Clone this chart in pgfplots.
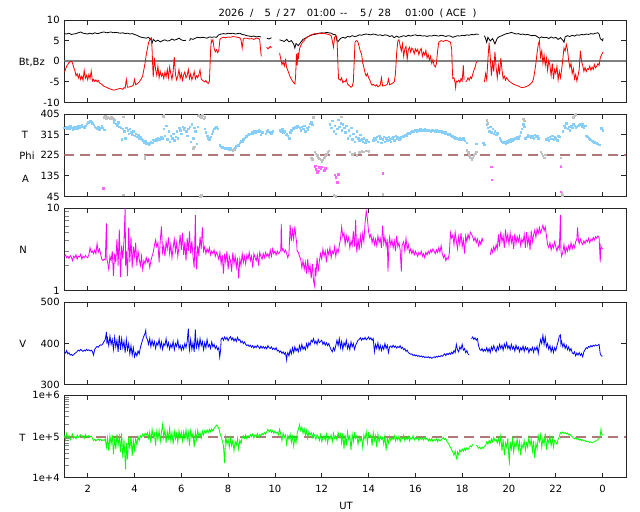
\documentclass[border=0pt]{standalone}
\usepackage{pgfplots}
\pgfplotsset{compat=1.18}
\usepackage{fontspec}
\setmainfont{DejaVu Sans}
\definecolor{bzred}{RGB}{255,0,0}
\definecolor{phiblue}{RGB}{135,206,250}
\definecolor{phigray}{RGB}{192,192,192}
\definecolor{phimag}{RGB}{255,102,255}
\definecolor{nmag}{RGB}{255,0,255}
\definecolor{vblue}{RGB}{0,0,255}
\definecolor{tgreen}{RGB}{0,255,0}
\definecolor{dashc}{RGB}{176,120,120}
\newcommand\tickfont{\fontsize{10}{11}\selectfont}
\begin{document}
\begin{tikzpicture}[font=\tickfont]
\useasboundingbox (0,0) rectangle (640bp,-512bp);
\pgfplotsset{
 panel/.style={
  scale only axis, width=561.7bp, height=82.5bp, anchor=north west,
  xmin=1, xmax=25, xtick={2,4,...,24},
  tick align=inside, major tick length=5bp, minor tick length=5bp,
  axis line style={black!85, line width=0.8bp},
  tick style={black!85, line width=0.8bp},
  minor tick style={gray, line width=0.8bp},
  unbounded coords=jump,
  yticklabel style={inner sep=0pt, xshift=-4.5bp, font=\tickfont},
  xticklabel style={inner sep=0pt, yshift=-7.5bp, font=\tickfont},
 },
 nox/.style={xticklabels={,,,,,,,,,,,,}},
 dline/.style={color=#1, line width=0.8bp, mark=none},
 dashref/.style={color=dashc, line width=2bp, dash pattern=on 10bp off 6bp},
}
% ---------------- Panel 1: Bt, Bz
\begin{axis}[panel, nox, at={(64.3bp,-20bp)}, ymin=-10, ymax=10,
  ytick={-10,-5,0,5,10}, yticklabels={-10,-5,0,5,10}]
\addplot[black!50, line width=1.8bp] coordinates {(1,0) (25,0)};
\addplot[dline=black] coordinates {
(1.0,6.7)(1.1,6.6)(1.2,6.8)(1.3,6.5)(1.4,6.6)(1.5,6.7)(1.6,6.9)(1.7,7.1)(1.8,6.8)(1.9,6.7)(2.0,6.6)(2.1,6.8)(2.2,6.6)(2.3,6.9)(2.4,6.7)(2.5,6.8)(2.6,7.0)(2.7,7.1)(2.8,6.9)(2.9,7.0)(3.0,7.1)(3.1,6.9)(3.2,7.0)(3.3,6.9)(3.4,6.8)(3.5,6.9)(3.6,6.7)(3.7,6.8)(3.8,6.6)(3.9,6.7)(4.0,6.5)(4.1,6.3)(4.2,6.0)(4.3,5.8)(4.4,5.7)(4.5,5.6)(4.6,5.8)(4.7,5.2)(4.75,4.4)(4.8,5.3)(4.9,4.8)(5.0,5.1)(5.1,4.7)(5.2,5.0)(5.3,5.2)(5.4,4.9)(5.5,5.0)(5.6,5.4)(5.7,5.1)(5.8,5.3)(5.9,5.6)(6.0,5.2)(6.1,5.0)(6.2,5.1)(6.3,nan)(6.35,5.0)(6.4,5.5)(6.5,5.3)(6.6,5.6)(6.7,5.8)(6.8,5.7)(6.9,5.8)(7.0,5.7)(7.1,5.6)(7.2,5.9)(7.3,5.8)(7.4,5.9)(7.5,5.8)(7.6,6.4)(7.7,6.6)(7.8,6.7)(7.9,6.6)(8.0,6.8)(8.1,6.7)(8.2,6.8)(8.3,6.6)(8.4,6.7)(8.5,6.8)(8.6,6.5)(8.7,6.4)(8.8,6.2)(8.9,6.1)(9.0,6.0)(9.1,6.1)(9.2,5.9)(9.3,6.0)(9.4,5.9)(9.45,nan)(9.65,5.6)(9.75,5.4)(9.85,5.7)(9.9,nan)(10.2,5.2)(10.3,5.0)(10.4,4.8)(10.5,5.3)(10.6,4.7)(10.7,5.0)(10.8,4.2)(10.85,3.2)(10.9,4.3)(11.0,3.8)(11.1,4.6)(11.2,5.3)(11.3,5.6)(11.4,5.9)(11.5,6.2)(11.6,6.4)(11.7,6.5)(11.8,6.7)(11.9,6.8)(12.0,6.9)(12.1,6.8)(12.2,7.0)(12.3,6.9)(12.4,6.8)(12.5,6.5)(12.6,6.4)(12.65,5.0)(12.7,4.8)(12.8,5.5)(12.9,5.8)(13.0,5.6)(13.1,6.0)(13.2,5.9)(13.3,6.2)(13.4,6.0)(13.5,6.1)(13.6,6.4)(13.7,6.3)(13.8,6.5)(13.9,6.6)(14.0,6.5)(14.1,6.4)(14.2,6.6)(14.3,6.5)(14.4,6.3)(14.5,6.4)(14.6,6.2)(14.7,6.4)(14.8,6.3)(14.9,6.0)(15.0,6.2)(15.1,5.7)(15.2,6.1)(15.3,5.8)(15.4,6.0)(15.5,6.2)(15.6,6.0)(15.7,6.3)(15.8,6.1)(15.9,6.3)(16.0,6.4)(16.1,6.2)(16.2,6.3)(16.3,6.1)(16.4,6.2)(16.5,6.0)(16.6,6.2)(16.7,6.1)(16.8,6.3)(16.9,6.2)(17.0,6.1)(17.1,6.3)(17.2,6.2)(17.3,6.0)(17.4,6.2)(17.5,6.1)(17.6,5.8)(17.7,6.0)(17.8,6.2)(17.9,6.1)(18.0,6.3)(18.1,6.2)(18.2,6.4)(18.3,6.3)(18.4,6.5)(18.5,6.4)(18.6,6.6)(18.7,6.5)(18.75,nan)(18.95,6.2)(19.0,5.5)(19.05,4.6)(19.1,5.8)(19.2,4.9)(19.3,5.5)(19.4,4.2)(19.5,5.6)(19.6,6.0)(19.7,6.2)(19.8,6.5)(19.9,6.7)(20.0,6.8)(20.1,7.0)(20.2,6.8)(20.3,6.6)(20.4,6.7)(20.5,6.5)(20.6,6.6)(20.7,6.4)(20.8,6.5)(20.9,6.3)(21.0,6.2)(21.1,6.3)(21.2,6.0)(21.3,5.6)(21.4,5.9)(21.5,5.7)(21.6,5.8)(21.7,5.5)(21.8,5.9)(21.9,5.6)(22.0,5.8)(22.1,5.3)(22.2,5.7)(22.3,5.1)(22.35,4.6)(22.4,5.9)(22.5,6.2)(22.6,6.0)(22.7,6.3)(22.8,6.1)(22.9,6.4)(23.0,6.3)(23.1,6.5)(23.2,6.4)(23.3,6.6)(23.4,6.5)(23.5,6.7)(23.6,6.6)(23.7,6.8)(23.8,6.9)(23.85,6.6)(23.9,5.5)(24.0,5.0)(24.02,5.6)
};
\addplot[dline=bzred] coordinates {
(1.0,-2.6)(1.05,-2.0)(1.1,-1.2)(1.15,-0.8)(1.2,-0.3)(1.3,0.0)(1.35,-0.4)(1.4,-1.5)(1.45,-2.2)(1.5,-3.5)(1.55,-3.0)(1.6,-4.1)(1.65,-3.2)(1.7,-4.4)(1.75,-3.6)(1.8,-4.6)(1.85,-2.2)(1.9,-4.1)(1.95,-3.4)(2.0,-4.5)(2.05,-3.2)(2.1,-4.2)(2.15,-2.4)(2.2,-4.8)(2.25,-4.4)(2.3,-4.9)(2.35,-4.5)(2.4,-5.0)(2.45,-4.6)(2.5,-5.2)(2.6,-5.6)(2.7,-6.1)(2.8,-6.3)(2.9,-6.6)(3.0,-6.8)(3.1,-7.0)(3.2,-6.9)(3.3,-6.7)(3.4,-6.6)(3.5,-6.8)(3.55,-6.4)(3.6,-6.5)(3.65,-4.4)(3.7,-6.3)(3.8,-6.2)(3.9,-6.0)(3.95,-5.8)(4.0,-4.4)(4.05,-5.7)(4.1,-5.5)(4.15,-5.3)(4.2,-5.0)(4.25,-4.6)(4.3,-4.2)(4.35,-3.5)(4.4,-2.0)(4.45,-0.5)(4.5,1.5)(4.55,3.0)(4.6,4.5)(4.65,5.2)(4.7,5.6)(4.72,5.7)(4.75,3.0)(4.78,-1.5)(4.8,-3.8)(4.85,0.8)(4.9,-2.0)(4.95,-3.4)(5.0,-1.2)(5.05,-4.0)(5.1,-2.5)(5.15,-3.6)(5.2,-3.0)(5.25,-4.2)(5.3,-2.6)(5.35,-3.8)(5.4,-2.0)(5.45,-4.0)(5.5,-1.4)(5.55,-3.0)(5.6,-4.4)(5.65,-2.5)(5.7,1.0)(5.75,-3.2)(5.8,-4.5)(5.85,-3.6)(5.9,-2.0)(5.95,-4.2)(6.0,-3.0)(6.05,-4.6)(6.1,-3.3)(6.15,-2.6)(6.2,-4.0)(6.25,-3.4)(6.3,-2.0)(6.35,-4.2)(6.4,-3.1)(6.45,-4.5)(6.5,-3.7)(6.55,-2.5)(6.6,-4.3)(6.65,-3.5)(6.7,-4.0)(6.75,-3.2)(6.8,-2.1)(6.85,-4.3)(6.9,-4.6)(6.95,-4.8)(7.0,-5.0)(7.05,-4.7)(7.1,-5.2)(7.15,-5.4)(7.2,-4.8)(7.22,-2.0)(7.25,2.5)(7.28,5.0)(7.3,4.6)(7.35,5.2)(7.4,3.2)(7.45,2.3)(7.5,2.8)(7.55,2.1)(7.6,2.6)(7.65,5.3)(7.7,5.6)(7.8,5.8)(7.9,5.7)(8.0,5.9)(8.1,5.8)(8.2,6.0)(8.3,5.9)(8.4,5.8)(8.5,5.7)(8.55,5.2)(8.6,3.2)(8.65,5.4)(8.7,5.6)(8.8,5.6)(8.9,5.4)(9.0,5.5)(9.1,5.3)(9.2,5.6)(9.3,5.5)(9.35,5.2)(9.4,2.0)(9.42,1.2)(9.45,nan)(9.65,3.4)(9.7,3.0)(9.8,3.6)(9.85,3.2)(9.9,nan)(10.2,2.0)(10.25,0.5)(10.3,-0.8)(10.35,-0.2)(10.4,-1.2)(10.45,0.3)(10.5,-1.5)(10.55,-2.2)(10.6,-3.0)(10.65,-3.8)(10.7,-4.3)(10.75,-4.8)(10.8,-5.2)(10.85,-5.5)(10.88,-4.0)(10.92,1.8)(10.95,-1.0)(10.98,2.0)(11.0,0.5)(11.05,3.0)(11.1,3.8)(11.15,4.3)(11.2,4.8)(11.25,5.0)(11.3,5.5)(11.4,5.9)(11.5,6.3)(11.6,6.5)(11.7,6.7)(11.8,6.6)(11.9,6.8)(12.0,6.7)(12.1,6.8)(12.2,6.6)(12.3,6.5)(12.4,6.2)(12.45,5.0)(12.5,3.4)(12.55,5.8)(12.6,6.2)(12.65,5.8)(12.7,-2.0)(12.72,-4.3)(12.8,-4.6)(12.85,-4.0)(12.9,-5.2)(12.95,-4.8)(13.0,-5.0)(13.05,-4.4)(13.1,-5.5)(13.15,-5.8)(13.2,-6.0)(13.25,-6.3)(13.3,-6.1)(13.35,-5.0)(13.38,-1.0)(13.42,4.5)(13.45,4.9)(13.5,5.0)(13.55,4.6)(13.6,3.5)(13.65,2.4)(13.7,1.8)(13.75,-0.4)(13.8,-1.5)(13.85,-2.8)(13.9,-3.6)(13.95,-3.0)(14.0,-4.0)(14.05,-4.5)(14.1,-5.3)(14.15,-5.8)(14.2,-5.6)(14.3,-6.0)(14.35,-5.7)(14.4,-6.2)(14.5,-5.8)(14.55,-4.0)(14.6,-6.0)(14.7,-5.9)(14.8,-5.6)(14.85,-4.3)(14.9,-5.7)(15.0,-5.4)(15.1,-5.0)(15.15,-3.0)(15.2,2.0)(15.25,4.9)(15.3,5.2)(15.35,3.8)(15.4,2.5)(15.45,4.2)(15.5,1.2)(15.55,3.0)(15.6,3.6)(15.65,0.5)(15.7,2.8)(15.75,3.4)(15.8,2.2)(15.85,3.2)(15.9,2.8)(15.95,1.8)(16.0,3.0)(16.05,2.4)(16.1,2.9)(16.15,1.6)(16.2,2.6)(16.25,3.1)(16.3,1.2)(16.35,2.2)(16.4,1.5)(16.45,2.6)(16.5,0.8)(16.55,1.6)(16.6,0.3)(16.65,1.2)(16.7,-0.5)(16.75,0.4)(16.8,-1.0)(16.85,-1.4)(16.9,-0.6)(16.95,2.5)(17.0,4.6)(17.1,5.0)(17.2,4.8)(17.3,5.1)(17.4,4.9)(17.5,4.6)(17.55,3.0)(17.58,-2.0)(17.6,-4.2)(17.65,-4.0)(17.7,-5.3)(17.72,-6.4)(17.75,-4.8)(17.8,-5.0)(17.85,-4.6)(17.9,-5.1)(17.95,-4.2)(18.0,-4.8)(18.05,-1.0)(18.08,-4.5)(18.1,nan)(18.15,-5.0)(18.2,-4.7)(18.25,-4.0)(18.3,-4.6)(18.35,-3.8)(18.4,-4.2)(18.45,-3.2)(18.5,-2.2)(18.55,-1.5)(18.6,-0.3)(18.65,0.0)(18.7,nan)(18.95,-5.0)(19.0,-3.0)(19.05,-4.5)(19.1,0.5)(19.15,4.5)(19.2,1.0)(19.25,-3.5)(19.3,0.0)(19.35,-2.5)(19.4,2.3)(19.45,-1.5)(19.5,-4.0)(19.55,-1.0)(19.6,-3.2)(19.65,0.8)(19.7,-2.0)(19.75,-4.2)(19.8,-3.6)(19.85,-4.6)(19.9,-4.0)(20.0,-4.8)(20.1,-5.2)(20.2,-5.6)(20.3,-5.8)(20.4,-6.0)(20.5,-6.3)(20.6,-6.4)(20.7,-6.2)(20.8,-6.0)(20.9,-5.6)(21.0,-5.0)(21.05,-4.2)(21.1,-2.5)(21.15,-0.5)(21.2,2.0)(21.25,4.0)(21.3,5.0)(21.32,3.2)(21.35,1.0)(21.4,2.5)(21.45,-0.5)(21.5,1.5)(21.55,-1.0)(21.6,0.8)(21.65,-2.2)(21.7,0.2)(21.75,-1.0)(21.8,-3.5)(21.85,-0.5)(21.9,-4.3)(21.95,-2.0)(22.0,-3.0)(22.05,-1.2)(22.1,-4.5)(22.15,-2.5)(22.2,-4.0)(22.25,-2.0)(22.3,0.5)(22.35,3.2)(22.4,2.5)(22.45,4.1)(22.5,2.8)(22.55,0.2)(22.6,-1.5)(22.65,-0.5)(22.7,-3.0)(22.75,-1.8)(22.8,-4.3)(22.85,-3.2)(22.9,-4.8)(22.95,-3.5)(23.0,-2.0)(23.05,2.5)(23.1,0.0)(23.15,-1.0)(23.2,-2.4)(23.25,-1.5)(23.3,-2.5)(23.35,-1.8)(23.4,-2.0)(23.45,-1.2)(23.5,-2.2)(23.55,-1.4)(23.6,-2.0)(23.65,-0.8)(23.7,-1.6)(23.75,-1.2)(23.8,-0.6)(23.85,-1.0)(23.9,0.8)(23.95,1.5)(24.0,2.0)(24.02,2.3)
};
\end{axis}
% ---------------- Panel 2: Phi
\begin{axis}[panel, nox, at={(64.3bp,-114bp)}, ymin=45, ymax=405,
  ytick={45,135,225,315,405}, yticklabels={45,135,225,315,405}]
\addplot[dashref] coordinates {(1,225) (25,225)};
\addplot[only marks, mark=square*, mark size=0.75bp, color=phigray] coordinates {
(2.7,390)(2.75,395)(2.8,385)(2.85,392)(2.9,388)(2.95,384)(3.0,390)(3.05,386)(3.1,383)(3.52,393)(3.52,52)(4.44,220)(4.44,213)(5.22,395)(5.25,400)(6.5,255)(6.55,262)(6.7,398)(6.75,402)(6.8,395)(6.85,390)(6.9,400)(6.95,385)(7.0,392)(6.8,47)(6.85,50)(8.15,250)(8.2,246)(8.25,252)(11.63,390)(11.55,215)(11.6,208)(11.7,240)(11.75,232)(11.8,225)(11.85,215)(11.9,210)(11.95,205)(12.0,200)(12.05,205)(12.1,215)(12.15,222)(12.2,230)(12.25,238)(12.3,245)(12.5,50)(12.6,46)(12.84,393)(13.2,240)(13.3,230)(13.4,236)(13.5,226)(13.6,238)(13.7,242)(13.8,240)(13.9,244)(14.0,242)(14.6,55)(18.2,248)(18.25,238)(18.3,225)(18.35,215)(18.4,208)(18.45,215)(18.5,225)(18.55,232)(18.6,240)(19.05,378)(19.1,365)(20.6,385)(20.65,375)(21.35,240)(21.4,232)(21.45,222)(21.5,215)(21.55,228)(22.2,215)(22.22,180)(22.25,60)(22.28,50)(22.75,392)(22.8,400)(22.85,405)
};
\addplot[only marks, mark=square*, mark size=0.75bp, color=phiblue] coordinates {
(1.0,345)(1.05,350)(1.1,342)(1.15,348)(1.2,340)(1.25,352)(1.3,345)(1.35,338)(1.4,347)(1.45,342)(1.5,350)(1.55,344)(1.6,355)(1.65,347)(1.7,352)(1.75,358)(1.8,350)(1.85,346)(1.9,353)(1.95,362)(2.0,370)(2.05,366)(2.1,375)(2.15,372)(2.2,365)(2.25,358)(2.3,350)(2.35,345)(2.4,340)(2.45,348)(2.5,338)(2.55,345)(2.6,352)(2.65,346)(2.7,336)
(3.1,370)(3.15,380)(3.2,362)(3.25,356)(3.3,370)(3.35,350)(3.4,345)(3.45,295)(3.5,340)(3.55,330)(3.6,300)(3.65,345)(3.7,335)(3.75,320)(3.8,340)(3.85,325)(3.9,315)(3.95,330)(4.0,310)(4.05,320)(4.1,305)(4.15,312)(4.2,300)(4.25,305)(4.3,295)(4.35,290)(4.4,282)(4.45,286)(4.5,275)(4.55,280)(4.6,272)(4.65,278)(4.7,284)(4.75,280)(4.8,292)(4.85,288)(4.9,296)(4.95,290)(5.0,300)(5.05,292)(5.1,298)(5.15,305)(5.2,300)(5.25,340)(5.3,310)(5.35,355)(5.4,295)(5.45,330)(5.5,285)(5.55,310)(5.6,300)(5.65,320)(5.7,290)(5.75,305)(5.8,330)(5.85,300)(5.9,345)(5.95,335)(6.0,320)(6.05,350)(6.1,338)(6.15,345)(6.2,330)(6.25,310)(6.3,340)(6.35,350)(6.4,285)(6.45,360)(6.5,300)(6.55,345)(6.6,330)(6.65,275)(6.7,350)
(7.0,340)(7.05,325)(7.1,310)(7.15,300)(7.2,295)(7.25,305)(7.3,320)(7.35,330)(7.4,340)(7.45,345)(7.5,350)(7.55,340)(7.65,268)(7.7,262)(7.75,260)(7.8,258)(7.85,255)(7.9,257)(7.95,254)(8.0,256)(8.05,252)(8.1,256)(8.3,258)(8.35,266)(8.4,272)(8.45,268)(8.5,280)(8.55,288)(8.6,286)(8.65,296)(8.7,302)(8.75,308)(8.8,306)(8.85,314)(8.9,320)(8.95,318)(9.0,325)(9.05,322)(9.1,330)(9.15,326)(9.2,332)(9.25,328)(9.3,335)(9.35,330)(9.4,315)(9.45,325)(9.6,320)(9.65,330)(9.7,335)(9.75,328)(9.8,325)(9.85,320)(9.9,330)(10.2,335)(10.25,330)(10.3,338)(10.35,325)(10.4,330)(10.45,315)(10.5,320)(10.55,310)(10.6,300)(10.65,325)(10.7,335)(10.75,345)(10.8,340)(10.85,350)(10.9,345)(10.95,355)(11.0,350)(11.05,345)(11.1,335)(11.15,350)(11.2,340)(11.25,355)(11.3,330)(11.35,345)(11.4,338)(11.45,350)(11.5,362)(11.55,370)(11.6,358)
(12.35,360)(12.4,345)(12.45,375)(12.5,330)(12.55,355)(12.6,320)(12.65,340)(12.7,380)(12.75,350)(12.8,365)(12.85,335)(12.9,360)(12.95,345)(13.0,325)(13.05,355)(13.1,300)(13.15,335)(13.2,310)(13.25,345)(13.3,295)(13.35,320)(13.4,285)(13.45,305)(13.5,330)(13.55,300)(13.6,290)(13.65,315)(13.7,295)(13.75,285)(13.8,300)(13.85,280)(13.9,290)(14.0,285)
(14.2,290)(14.25,300)(14.3,295)(14.35,305)(14.4,285)(14.45,310)(14.5,300)(14.55,280)(14.6,295)(14.65,305)(14.7,285)(14.75,300)(14.8,290)(14.85,305)(14.9,295)(14.95,285)(15.0,300)(15.05,305)(15.1,290)(15.15,310)(15.2,300)(15.25,305)(15.3,295)(15.35,300)(15.4,305)(15.45,310)(15.5,305)(15.55,315)(15.6,310)(15.65,318)(15.7,322)(15.75,320)(15.8,326)(15.85,330)(15.9,328)(15.95,332)(16.0,334)(16.05,330)(16.1,336)(16.15,333)(16.2,338)(16.25,335)(16.3,337)(16.35,333)(16.4,338)(16.45,335)(16.5,332)(16.55,336)(16.6,333)(16.65,330)(16.7,334)(16.75,336)(16.8,333)(16.85,330)(16.9,334)(16.95,330)(17.0,332)(17.05,328)(17.1,330)(17.15,326)(17.2,328)(17.25,322)(17.3,325)(17.35,320)(17.4,316)(17.45,318)(17.5,312)(17.55,308)(17.6,310)(17.65,304)(17.7,300)(17.75,302)(17.8,298)(17.85,295)(17.9,300)(17.95,296)(18.0,292)(18.05,300)(18.1,288)(18.2,280)(18.6,275)(18.9,280)(18.95,272)
(19.05,360)(19.1,345)(19.15,330)(19.2,350)(19.25,325)(19.3,340)(19.35,318)(19.4,330)(19.45,315)(19.5,322)(19.6,300)(19.65,290)(19.7,285)(19.75,280)(19.8,284)(19.85,278)(19.9,286)(19.95,282)(20.0,290)(20.05,286)(20.1,294)(20.15,290)(20.2,296)(20.25,300)(20.3,298)(20.35,305)(20.4,300)(20.45,310)(20.5,325)(20.55,340)(20.6,360)(20.65,350)(20.7,300)(20.75,305)(20.8,312)(20.85,305)(20.9,310)(20.95,302)(21.0,308)(21.05,300)(21.1,315)(21.15,305)(21.2,310)(21.25,300)(21.6,295)(21.65,300)(21.7,290)(21.75,305)(21.8,298)(21.85,310)(21.9,295)(21.95,305)(22.0,300)(22.05,290)(22.1,310)(22.15,305)(22.3,330)(22.35,355)(22.4,345)(22.45,365)(22.5,340)(22.55,350)(22.6,335)(22.65,352)(22.7,345)(22.75,360)(22.8,355)(22.85,348)(22.9,350)(22.95,355)(23.0,358)(23.05,362)(23.1,352)(23.15,360)(23.2,348)(23.25,355)(23.3,310)(23.35,305)(23.4,300)(23.45,295)(23.5,292)(23.55,288)(23.6,285)(23.65,282)(23.7,280)(23.75,278)(23.8,275)(23.85,272)(23.95,342)(24.0,335)
};
\addplot[only marks, mark=square*, mark size=0.75bp, color=phimag] coordinates {
(2.66,82)(11.72,180)(11.75,165)(11.8,150)(11.85,158)(11.9,172)(11.7,175)(11.8,150)(11.95,168)(12.0,175)(12.1,160)(12.15,168)(12.55,140)(12.6,130)(12.65,108)(12.7,142)(14.6,147)(19.24,176)(19.26,118)(22.2,176)(22.22,65)
};
\end{axis}
% ---------------- Panel 3: N
\begin{axis}[panel, nox, at={(64.3bp,-208bp)}, ymode=log, ymin=1, ymax=10,
  ytick={1,10}, yticklabels={1,10}, minor ytick={2,3,4,5,6,7,8,9},
  ytick pos=left]
\addplot[dline=nmag] coordinates {
(1.0,2.6)(1.05,2.7)(1.1,2.5)(1.15,2.6)(1.2,2.45)(1.25,2.65)(1.3,2.55)(1.35,2.3)(1.4,2.6)(1.45,2.5)(1.5,2.7)(1.55,2.4)(1.6,2.6)(1.65,2.55)(1.7,2.75)(1.75,2.4)(1.8,2.6)(1.85,2.5)(1.9,2.65)(1.95,2.55)(2.0,2.5)(2.05,2.7)(2.1,3.3)(2.15,2.9)(2.2,3.0)(2.25,2.8)(2.3,3.1)(2.35,2.8)(2.4,3.7)(2.45,2.9)(2.5,3.2)(2.55,2.8)(2.6,2.4)(2.65,2.3)(2.7,2.4)(2.75,2.35)(2.8,6.5)(2.82,2.4)(2.85,2.2)(2.9,1.8)(2.95,2.6)(3.0,2.3)(3.05,3.0)(3.1,1.5)(3.15,2.8)(3.2,2.2)(3.25,4.2)(3.3,2.0)(3.35,5.5)(3.4,1.45)(3.45,3.5)(3.5,2.4)(3.55,4.0)(3.6,9.9)(3.62,2.0)(3.65,3.0)(3.7,1.5)(3.75,5.8)(3.8,2.2)(3.85,4.5)(3.9,1.9)(3.95,3.4)(4.0,2.6)(4.05,3.8)(4.1,2.0)(4.15,3.0)(4.2,2.4)(4.25,2.0)(4.3,2.6)(4.35,1.8)(4.4,2.3)(4.45,2.1)(4.5,2.5)(4.55,2.2)(4.6,2.4)(4.65,1.9)(4.7,2.3)(4.75,2.6)(4.8,2.9)(4.85,3.5)(4.9,4.1)(4.95,3.4)(5.0,3.8)(5.05,2.2)(5.1,4.0)(5.15,6.0)(5.2,2.9)(5.25,3.5)(5.3,2.6)(5.35,3.9)(5.4,3.2)(5.45,4.4)(5.5,2.8)(5.55,3.6)(5.6,2.5)(5.65,3.3)(5.7,4.2)(5.75,3.0)(5.8,3.8)(5.85,2.6)(5.9,3.4)(5.95,4.7)(6.0,3.1)(6.05,5.0)(6.1,2.7)(6.15,3.9)(6.2,2.3)(6.25,4.3)(6.3,3.0)(6.35,5.2)(6.4,2.8)(6.45,4.0)(6.5,2.6)(6.55,1.9)(6.6,8.2)(6.62,3.0)(6.65,1.8)(6.7,3.5)(6.75,2.6)(6.8,4.5)(6.85,3.2)(6.9,5.8)(6.95,3.0)(7.0,3.4)(7.05,2.8)(7.1,3.2)(7.15,2.9)(7.2,3.3)(7.25,2.7)(7.3,3.0)(7.35,2.8)(7.4,3.1)(7.45,2.6)(7.5,2.9)(7.55,2.7)(7.6,2.4)(7.65,2.9)(7.7,2.1)(7.75,2.7)(7.8,1.6)(7.85,2.8)(7.9,2.2)(7.95,3.0)(8.0,1.8)(8.05,2.6)(8.1,2.3)(8.15,1.7)(8.2,2.9)(8.25,2.1)(8.3,2.6)(8.35,1.9)(8.4,2.5)(8.45,1.4)(8.5,2.4)(8.55,2.0)(8.6,2.8)(8.65,2.2)(8.7,2.6)(8.75,2.1)(8.8,2.7)(8.85,2.4)(8.9,2.9)(8.95,2.3)(9.0,2.6)(9.05,1.9)(9.1,2.8)(9.15,2.5)(9.2,2.3)(9.25,2.7)(9.3,2.0)(9.35,2.9)(9.4,2.6)(9.45,2.4)(9.5,2.8)(9.55,2.5)(9.6,2.9)(9.65,2.6)(9.7,2.8)(9.75,2.5)(9.8,3.1)(9.85,2.6)(9.9,3.2)(9.95,2.8)(10.0,3.0)(10.05,2.7)(10.1,3.0)(10.15,2.8)(10.2,2.9)(10.25,3.1)(10.27,6.4)(10.3,3.0)(10.35,3.2)(10.4,2.9)(10.45,3.1)(10.5,2.8)(10.55,2.5)(10.6,2.8)(10.65,6.2)(10.7,4.0)(10.75,5.4)(10.8,4.2)(10.85,6.0)(10.9,4.3)(10.92,4.0)(10.95,3.0)(11.0,2.9)(11.05,2.6)(11.1,2.4)(11.15,1.9)(11.2,2.3)(11.25,1.8)(11.3,2.2)(11.35,1.6)(11.4,2.4)(11.45,1.7)(11.5,2.0)(11.55,1.4)(11.6,2.1)(11.65,1.3)(11.7,1.12)(11.72,1.9)(11.75,1.5)(11.8,2.5)(11.85,1.7)(11.9,2.3)(11.95,2.8)(12.0,2.4)(12.05,3.2)(12.1,2.6)(12.15,3.0)(12.2,2.2)(12.25,3.1)(12.3,2.7)(12.35,3.3)(12.4,2.5)(12.45,3.0)(12.5,2.8)(12.55,3.4)(12.6,2.6)(12.65,3.2)(12.7,2.9)(12.75,3.5)(12.8,4.2)(12.85,5.9)(12.9,4.5)(12.95,5.0)(13.0,3.6)(13.05,4.6)(13.1,3.9)(13.15,4.4)(13.2,3.3)(13.25,4.0)(13.3,3.5)(13.35,5.2)(13.4,3.4)(13.45,7.2)(13.48,3.6)(13.5,2.9)(13.55,4.3)(13.6,3.1)(13.65,4.6)(13.7,3.5)(13.75,4.9)(13.8,3.9)(13.85,6.5)(13.9,9.2)(13.95,7.5)(14.0,5.2)(14.05,4.4)(14.1,4.8)(14.15,3.8)(14.2,4.4)(14.25,3.6)(14.3,4.2)(14.35,3.5)(14.4,4.6)(14.45,3.8)(14.5,4.3)(14.55,3.3)(14.6,6.1)(14.65,3.7)(14.7,4.5)(14.75,3.4)(14.8,4.2)(14.83,1.7)(14.87,3.6)(14.9,4.4)(14.95,3.5)(15.0,4.1)(15.05,3.3)(15.1,4.0)(15.15,3.0)(15.2,4.6)(15.25,3.4)(15.3,3.8)(15.35,3.1)(15.4,1.7)(15.43,3.5)(15.5,3.9)(15.55,3.0)(15.6,4.3)(15.65,3.2)(15.7,3.6)(15.75,2.9)(15.8,3.2)(15.85,2.8)(15.9,3.1)(15.95,2.7)(16.0,3.0)(16.05,2.8)(16.1,2.6)(16.15,2.9)(16.2,2.7)(16.25,3.0)(16.3,2.6)(16.35,2.8)(16.4,2.5)(16.45,2.9)(16.5,2.7)(16.55,3.0)(16.6,2.8)(16.65,3.1)(16.7,2.9)(16.75,3.2)(16.8,3.0)(16.85,2.8)(16.9,3.1)(16.95,2.9)(17.0,3.3)(17.05,2.9)(17.1,3.5)(17.15,2.8)(17.2,2.5)(17.25,2.7)(17.3,2.3)(17.35,2.5)(17.4,2.4)(17.45,2.8)(17.5,5.0)(17.55,4.3)(17.6,4.7)(17.65,3.6)(17.7,5.1)(17.75,4.0)(17.8,3.2)(17.85,4.5)(17.9,3.6)(17.95,5.0)(18.0,3.4)(18.05,4.1)(18.1,2.8)(18.15,4.6)(18.2,3.9)(18.25,4.8)(18.3,4.2)(18.35,5.1)(18.4,4.8)(18.45,4.5)(18.5,4.0)(18.55,4.4)(18.6,3.8)(18.65,4.2)(18.7,3.5)(18.75,4.0)(18.8,3.6)(18.85,4.3)(18.9,3.9)(18.95,nan)(19.2,2.7)(19.25,3.2)(19.3,2.9)(19.35,3.4)(19.4,3.0)(19.45,3.6)(19.5,3.2)(19.55,4.8)(19.6,3.4)(19.65,5.2)(19.7,3.9)(19.75,4.6)(19.8,3.3)(19.85,5.5)(19.9,4.0)(19.95,4.8)(20.0,3.6)(20.05,5.0)(20.1,3.8)(20.15,4.4)(20.2,3.2)(20.25,4.9)(20.3,3.7)(20.35,4.5)(20.4,3.9)(20.45,4.6)(20.5,3.5)(20.55,4.2)(20.6,3.8)(20.65,4.8)(20.7,3.3)(20.75,5.1)(20.8,3.6)(20.85,4.5)(20.9,3.1)(20.95,5.3)(21.0,3.9)(21.05,4.7)(21.1,5.4)(21.15,4.4)(21.2,5.6)(21.25,4.9)(21.3,5.8)(21.35,5.0)(21.4,5.5)(21.45,6.2)(21.5,5.3)(21.55,5.9)(21.6,4.6)(21.65,3.6)(21.7,3.3)(21.75,3.8)(21.8,3.1)(21.85,3.6)(21.9,3.3)(21.95,3.9)(22.0,3.4)(22.05,3.0)(22.1,3.5)(22.15,3.2)(22.2,8.2)(22.22,3.0)(22.25,2.6)(22.3,2.9)(22.35,3.6)(22.4,2.8)(22.45,3.3)(22.5,3.0)(22.55,3.5)(22.6,3.1)(22.65,3.8)(22.7,3.2)(22.75,3.6)(22.8,3.3)(22.85,3.9)(22.9,4.2)(22.93,5.8)(22.97,4.0)(23.0,3.7)(23.05,4.2)(23.1,3.8)(23.15,3.6)(23.2,4.0)(23.25,3.7)(23.3,4.1)(23.35,3.9)(23.4,4.3)(23.45,3.8)(23.5,4.2)(23.55,4.0)(23.6,4.4)(23.65,4.1)(23.7,4.5)(23.75,4.3)(23.8,4.6)(23.85,4.4)(23.9,2.2)(23.92,3.5)(23.95,3.3)(24.0,3.2)
};
\end{axis}
% ---------------- Panel 4: V
\begin{axis}[panel, nox, at={(64.3bp,-302.3bp)}, ymin=300, ymax=500,
  ytick={300,400,500}, yticklabels={300,400,500}]
\addplot[dline=vblue] coordinates {
(1.0,380)(1.05,377)(1.1,383)(1.15,375)(1.2,378)(1.25,372)(1.3,374)(1.35,371)(1.4,373)(1.45,376)(1.5,378)(1.55,381)(1.6,384)(1.65,382)(1.7,386)(1.75,383)(1.8,381)(1.85,384)(1.9,382)(1.95,386)(2.0,383)(2.05,385)(2.1,382)(2.15,384)(2.2,381)(2.25,372)(2.3,386)(2.35,390)(2.4,393)(2.45,391)(2.5,395)(2.55,397)(2.6,396)(2.65,400)(2.7,405)(2.75,410)(2.8,428)(2.82,400)(2.85,412)(2.9,395)(2.95,418)(3.0,398)(3.05,410)(3.1,386)(3.15,415)(3.2,392)(3.25,408)(3.3,380)(3.35,420)(3.4,385)(3.45,412)(3.5,390)(3.55,405)(3.6,378)(3.65,410)(3.7,385)(3.75,400)(3.8,375)(3.85,395)(3.9,372)(3.95,390)(4.0,368)(4.05,378)(4.1,370)(4.15,382)(4.2,375)(4.25,390)(4.3,400)(4.35,410)(4.4,418)(4.45,425)(4.48,432)(4.5,415)(4.55,410)(4.6,398)(4.65,412)(4.7,392)(4.75,408)(4.8,395)(4.85,405)(4.9,388)(4.95,402)(5.0,396)(5.05,410)(5.1,390)(5.15,404)(5.2,386)(5.25,400)(5.3,395)(5.35,412)(5.4,392)(5.45,402)(5.5,386)(5.55,398)(5.6,390)(5.65,405)(5.7,385)(5.75,400)(5.8,393)(5.85,408)(5.9,388)(5.95,396)(6.0,384)(6.05,395)(6.1,386)(6.15,400)(6.2,390)(6.25,405)(6.3,436)(6.33,395)(6.35,384)(6.4,410)(6.45,386)(6.5,402)(6.55,380)(6.6,434)(6.63,395)(6.65,390)(6.7,408)(6.75,388)(6.8,412)(6.85,395)(6.9,405)(6.95,385)(7.0,402)(7.05,390)(7.1,410)(7.15,392)(7.2,398)(7.25,388)(7.3,404)(7.35,392)(7.4,398)(7.45,388)(7.5,394)(7.55,385)(7.6,390)(7.64,367)(7.68,385)(7.7,410)(7.75,414)(7.8,408)(7.85,416)(7.9,410)(7.95,415)(8.0,407)(8.05,413)(8.1,417)(8.15,409)(8.2,414)(8.25,406)(8.3,412)(8.35,405)(8.4,415)(8.45,408)(8.5,410)(8.55,402)(8.6,406)(8.65,400)(8.7,404)(8.75,398)(8.8,395)(8.85,397)(8.9,393)(8.95,396)(9.0,391)(9.05,395)(9.1,389)(9.15,394)(9.2,390)(9.25,396)(9.3,392)(9.35,388)(9.4,394)(9.45,389)(9.5,393)(9.55,388)(9.6,392)(9.65,387)(9.7,395)(9.75,390)(9.8,388)(9.85,392)(9.9,386)(9.95,389)(10.0,385)(10.05,390)(10.1,382)(10.15,384)(10.2,379)(10.25,382)(10.3,376)(10.35,380)(10.4,374)(10.45,378)(10.5,360)(10.52,372)(10.55,378)(10.6,370)(10.65,385)(10.7,375)(10.75,390)(10.8,378)(10.85,392)(10.9,382)(10.95,388)(11.0,380)(11.05,395)(11.1,384)(11.15,398)(11.2,386)(11.25,392)(11.3,385)(11.35,400)(11.4,390)(11.45,402)(11.5,396)(11.55,408)(11.6,404)(11.65,412)(11.7,400)(11.75,406)(11.8,398)(11.85,410)(11.9,402)(11.95,405)(12.0,408)(12.05,398)(12.1,404)(12.15,396)(12.2,402)(12.25,395)(12.3,400)(12.35,392)(12.4,385)(12.45,380)(12.5,390)(12.55,383)(12.6,395)(12.65,408)(12.7,395)(12.75,412)(12.8,390)(12.85,405)(12.9,386)(12.95,402)(13.0,394)(13.05,408)(13.1,388)(13.15,398)(13.2,385)(13.25,404)(13.3,392)(13.35,400)(13.4,386)(13.45,396)(13.5,402)(13.55,408)(13.6,410)(13.65,414)(13.7,408)(13.75,413)(13.8,410)(13.85,415)(13.9,409)(13.95,412)(14.0,416)(14.05,410)(14.1,414)(14.15,408)(14.2,412)(14.25,380)(14.3,398)(14.35,388)(14.4,402)(14.45,385)(14.5,396)(14.55,383)(14.6,394)(14.65,386)(14.7,400)(14.75,388)(14.8,396)(14.85,378)(14.9,392)(14.95,394)(15.0,390)(15.05,396)(15.1,391)(15.15,394)(15.2,389)(15.25,393)(15.3,390)(15.35,395)(15.4,388)(15.45,391)(15.5,385)(15.55,388)(15.6,381)(15.65,384)(15.7,378)(15.75,376)(15.8,374)(15.85,375)(15.9,371)(15.95,373)(16.0,370)(16.05,372)(16.1,369)(16.15,371)(16.2,368)(16.25,370)(16.3,367)(16.35,369)(16.4,366)(16.45,368)(16.5,366)(16.55,368)(16.6,365)(16.65,367)(16.7,364)(16.75,366)(16.8,368)(16.85,366)(16.9,369)(16.95,367)(17.0,370)(17.05,368)(17.1,371)(17.15,369)(17.2,372)(17.25,375)(17.3,371)(17.35,376)(17.4,373)(17.45,377)(17.5,374)(17.55,379)(17.6,375)(17.65,383)(17.7,378)(17.75,398)(17.8,385)(17.85,380)(17.9,392)(17.95,386)(18.0,398)(18.05,384)(18.1,388)(18.15,378)(18.2,383)(18.25,375)(18.3,372)(18.35,nan)(18.4,412)(18.45,416)(18.5,410)(18.55,414)(18.6,408)(18.65,412)(18.7,395)(18.75,386)(18.8,383)(18.85,388)(18.9,381)(18.95,386)(19.0,382)(19.05,390)(19.1,380)(19.15,388)(19.2,378)(19.25,392)(19.3,384)(19.35,395)(19.4,386)(19.45,380)(19.5,393)(19.55,385)(19.6,398)(19.65,388)(19.7,396)(19.75,384)(19.8,399)(19.85,390)(19.9,402)(19.95,388)(20.0,395)(20.05,385)(20.1,398)(20.15,387)(20.2,393)(20.25,382)(20.3,396)(20.35,386)(20.4,392)(20.45,380)(20.5,390)(20.55,384)(20.6,394)(20.65,381)(20.7,392)(20.75,385)(20.8,390)(20.85,378)(20.9,388)(20.95,383)(21.0,391)(21.05,379)(21.1,390)(21.15,384)(21.2,393)(21.25,376)(21.3,395)(21.35,410)(21.4,400)(21.45,420)(21.5,398)(21.55,415)(21.6,392)(21.65,400)(21.7,386)(21.75,395)(21.8,380)(21.85,392)(21.9,378)(21.95,390)(22.0,383)(22.05,395)(22.1,405)(22.15,418)(22.2,421)(22.22,398)(22.25,405)(22.3,392)(22.35,400)(22.4,388)(22.45,396)(22.5,385)(22.55,392)(22.6,382)(22.65,388)(22.7,378)(22.75,375)(22.8,380)(22.85,370)(22.9,377)(22.95,372)(23.0,378)(23.05,371)(23.1,376)(23.15,368)(23.2,380)(23.25,385)(23.3,390)(23.35,388)(23.4,393)(23.45,391)(23.5,395)(23.55,392)(23.6,396)(23.65,394)(23.7,397)(23.75,395)(23.8,396)(23.85,398)(23.9,375)(23.95,370)(24.0,370)
};
\end{axis}
% ---------------- Panel 5: T
\begin{axis}[panel, at={(64.3bp,-395.3bp)}, ymode=log, ymin=1e4, ymax=1e6,
  ytick={1e4,1e5,1e6}, yticklabels={1e+4,1e+5,1e+6},
  minor ytick={2e4,3e4,4e4,5e4,6e4,7e4,8e4,9e4,2e5,3e5,4e5,5e5,6e5,7e5,8e5,9e5},
  ytick pos=left, xticklabels={2,4,6,8,10,12,14,16,18,20,22,0}]
\addplot[dashref] coordinates {(1,1e5) (25,1e5)};
\addplot[dline=tgreen] coordinates {
(1.0,1.1e5)(1.05,8.5e4)(1.1,1.2e5)(1.15,9.0e4)(1.2,1.05e5)(1.25,8.2e4)(1.3,9.8e4)(1.35,1.15e5)(1.4,9.2e4)(1.45,1.0e5)(1.5,8.8e4)(1.55,1.08e5)(1.6,9.5e4)(1.65,1.02e5)(1.7,1.1e5)(1.75,9.6e4)(1.8,1.05e5)(1.85,9.0e4)(1.9,1.12e5)(1.95,1.0e5)(2.0,9.4e4)(2.05,1.06e5)(2.1,9.8e4)(2.15,1.03e5)(2.2,9.1e4)(2.25,8.0e4)(2.3,8.6e4)(2.35,7.8e4)(2.4,8.3e4)(2.45,8.8e4)(2.5,8.1e4)(2.55,8.6e4)(2.6,7.9e4)(2.65,8.4e4)(2.7,8.0e4)(2.75,8.8e4)(2.8,5.5e4)(2.85,9.5e4)(2.9,4.5e4)(2.95,1.05e5)(3.0,6.5e4)(3.05,1.1e5)(3.1,3.7e4)(3.15,9.0e4)(3.2,5.0e4)(3.25,1.15e5)(3.3,6.0e4)(3.35,1.0e5)(3.4,4.2e4)(3.45,1.2e5)(3.5,3.0e4)(3.55,8.5e4)(3.6,2.5e4)(3.62,1.6e4)(3.65,7.0e4)(3.7,2.8e4)(3.75,9.5e4)(3.8,5.0e4)(3.85,1.05e5)(3.9,3.4e4)(3.95,8.0e4)(4.0,4.8e4)(4.05,9.0e4)(4.1,6.2e4)(4.15,1.0e5)(4.2,8.0e4)(4.25,1.05e5)(4.3,9.5e4)(4.35,1.15e5)(4.4,1.0e5)(4.45,1.2e5)(4.5,1.08e5)(4.55,1.25e5)(4.6,9.0e4)(4.65,1.3e5)(4.7,7.0e4)(4.75,1.5e5)(4.8,9.5e4)(4.85,1.2e5)(4.9,6.0e4)(4.95,1.35e5)(5.0,8.5e4)(5.05,1.4e5)(5.1,7.5e4)(5.15,1.25e5)(5.2,1.95e5)(5.25,9.5e4)(5.3,1.5e5)(5.35,7.0e4)(5.4,1.3e5)(5.45,9.0e4)(5.5,1.6e5)(5.55,8.0e4)(5.6,1.25e5)(5.65,6.5e4)(5.7,1.35e5)(5.75,8.8e4)(5.8,1.2e5)(5.85,7.2e4)(5.9,1.4e5)(5.95,9.5e4)(6.0,1.28e5)(6.05,7.8e4)(6.1,1.3e5)(6.15,9.0e4)(6.2,1.45e5)(6.25,8.2e4)(6.3,1.25e5)(6.35,6.0e4)(6.4,1.38e5)(6.45,9.5e4)(6.5,1.2e5)(6.55,5.5e4)(6.6,1.3e5)(6.65,8.5e4)(6.7,1.42e5)(6.75,1.0e5)(6.8,1.25e5)(6.85,9.0e4)(6.9,1.35e5)(6.95,1.1e5)(7.0,1.4e5)(7.05,1.2e5)(7.1,1.45e5)(7.15,1.25e5)(7.2,1.5e5)(7.25,1.3e5)(7.3,1.55e5)(7.35,1.35e5)(7.4,1.6e5)(7.45,1.7e5)(7.5,1.9e5)(7.55,1.8e5)(7.6,1.6e5)(7.65,1.2e5)(7.7,1.0e5)(7.75,8.0e4)(7.8,6.0e4)(7.85,2.3e4)(7.88,7.0e4)(7.9,1.0e5)(7.95,6.5e4)(8.0,8.5e4)(8.05,5.5e4)(8.1,9.0e4)(8.15,6.0e4)(8.2,8.0e4)(8.25,4.5e4)(8.3,7.5e4)(8.35,6.2e4)(8.4,9.0e4)(8.45,5.0e4)(8.5,8.2e4)(8.55,6.8e4)(8.6,9.5e4)(8.65,1.05e5)(8.7,9.0e4)(8.75,1.1e5)(8.8,8.8e4)(8.85,1.05e5)(8.9,9.5e4)(8.95,1.12e5)(9.0,1.0e5)(9.05,1.15e5)(9.1,9.2e4)(9.15,1.1e5)(9.2,1.02e5)(9.25,1.18e5)(9.3,9.6e4)(9.35,1.12e5)(9.4,1.05e5)(9.45,1.2e5)(9.5,1.1e5)(9.55,1.25e5)(9.6,1.15e5)(9.65,1.3e5)(9.7,1.5e5)(9.75,1.3e5)(9.8,1.45e5)(9.85,1.25e5)(9.9,1.4e5)(9.95,1.2e5)(10.0,1.35e5)(10.05,1.2e5)(10.1,1.28e5)(10.15,1.1e5)(10.2,1.5e5)(10.25,1.15e5)(10.3,8.0e4)(10.35,1.2e5)(10.4,9.5e4)(10.45,1.1e5)(10.5,6.5e4)(10.55,1.05e5)(10.6,8.5e4)(10.65,1.15e5)(10.7,7.2e4)(10.75,1.0e5)(10.8,5.8e4)(10.85,9.5e4)(10.9,7.0e4)(10.95,1.2e5)(11.0,1.5e5)(11.05,1.95e5)(11.1,1.4e5)(11.15,1.7e5)(11.2,1.2e5)(11.25,1.55e5)(11.3,1.05e5)(11.35,1.4e5)(11.4,9.0e4)(11.45,1.3e5)(11.5,1.1e5)(11.55,1.25e5)(11.6,9.5e4)(11.65,1.2e5)(11.7,1.05e5)(11.75,8.5e4)(11.8,1.1e5)(11.85,1.0e5)(11.9,8.0e4)(11.95,1.1e5)(12.0,7.5e4)(12.05,9.5e4)(12.1,1.05e5)(12.15,8.0e4)(12.2,1.15e5)(12.25,7.0e4)(12.3,1.0e5)(12.35,8.8e4)(12.4,1.1e5)(12.45,7.5e4)(12.5,1.2e5)(12.55,9.0e4)(12.6,1.05e5)(12.65,8.2e4)(12.7,1.25e5)(12.75,9.5e4)(12.8,1.15e5)(12.85,7.0e4)(12.9,1.2e5)(12.95,5.0e4)(13.0,1.1e5)(13.05,6.0e4)(13.1,1.3e5)(13.15,8.5e4)(13.2,1.05e5)(13.25,4.6e4)(13.3,1.15e5)(13.35,7.5e4)(13.4,1.2e5)(13.45,9.0e4)(13.5,1.05e5)(13.55,6.5e4)(13.6,1.0e5)(13.65,8.0e4)(13.7,9.5e4)(13.75,5.5e4)(13.8,1.1e5)(13.85,8.5e4)(13.9,1.3e5)(13.95,7.0e4)(14.0,1.2e5)(14.05,9.5e4)(14.1,1.1e5)(14.15,6.0e4)(14.2,1.25e5)(14.25,8.0e4)(14.3,1.05e5)(14.35,5.5e4)(14.4,1.15e5)(14.45,7.5e4)(14.5,1.0e5)(14.55,8.5e4)(14.6,9.5e4)(14.65,6.5e4)(14.7,1.05e5)(14.75,4.6e4)(14.8,9.0e4)(14.85,7.0e4)(14.9,1.0e5)(14.95,8.0e4)(15.0,9.5e4)(15.05,8.5e4)(15.1,1.05e5)(15.15,7.8e4)(15.2,9.8e4)(15.25,8.2e4)(15.3,1.02e5)(15.35,7.5e4)(15.4,9.5e4)(15.45,8.8e4)(15.5,1.08e5)(15.55,8.0e4)(15.6,9.6e4)(15.65,8.5e4)(15.7,1.0e5)(15.75,7.8e4)(15.8,9.2e4)(15.85,8.6e4)(15.9,1.05e5)(15.95,8.2e4)(16.0,9.5e4)(16.05,8.8e4)(16.1,1.0e5)(16.15,8.0e4)(16.2,9.4e4)(16.25,8.6e4)(16.3,9.0e4)(16.35,8.2e4)(16.4,9.6e4)(16.45,8.5e4)(16.5,9.2e4)(16.55,7.8e4)(16.6,8.8e4)(16.65,8.0e4)(16.7,9.0e4)(16.75,7.6e4)(16.8,8.5e4)(16.85,8.0e4)(16.9,8.8e4)(16.95,7.5e4)(17.0,8.6e4)(17.05,7.8e4)(17.1,8.4e4)(17.15,8.8e4)(17.2,9.5e4)(17.25,8.5e4)(17.3,9.0e4)(17.35,7.5e4)(17.4,7.0e4)(17.45,6.2e4)(17.5,5.5e4)(17.55,4.8e4)(17.6,4.2e4)(17.65,3.5e4)(17.7,4.5e4)(17.75,3.0e4)(17.78,2.8e4)(17.8,4.2e4)(17.85,3.6e4)(17.9,4.8e4)(17.95,4.2e4)(18.0,5.0e4)(18.05,4.4e4)(18.1,5.2e4)(18.15,4.6e4)(18.2,5.3e4)(18.25,4.8e4)(18.3,5.5e4)(18.35,6.0e4)(18.4,5.6e4)(18.45,6.5e4)(18.5,nan)(18.6,6.2e4)(18.65,5.8e4)(18.7,5.2e4)(18.75,5.6e4)(18.8,5.0e4)(18.85,5.5e4)(18.9,5.2e4)(18.95,5.8e4)(19.0,6.0e4)(19.05,7.5e4)(19.1,6.5e4)(19.15,8.0e4)(19.2,7.0e4)(19.25,8.8e4)(19.3,7.5e4)(19.35,9.5e4)(19.4,7.8e4)(19.45,8.5e4)(19.5,7.0e4)(19.55,8.8e4)(19.6,6.5e4)(19.65,1.05e5)(19.7,4.5e4)(19.75,8.5e4)(19.8,3.5e4)(19.85,7.0e4)(19.9,5.5e4)(19.95,9.0e4)(20.0,2.8e4)(20.02,2.4e4)(20.05,7.5e4)(20.1,5.0e4)(20.15,8.5e4)(20.2,4.2e4)(20.25,7.0e4)(20.3,5.5e4)(20.35,9.0e4)(20.4,4.8e4)(20.45,7.5e4)(20.5,3.5e4)(20.55,6.5e4)(20.6,5.2e4)(20.65,8.0e4)(20.7,4.6e4)(20.75,7.0e4)(20.8,5.5e4)(20.85,9.5e4)(20.9,6.0e4)(20.95,8.5e4)(21.0,4.4e4)(21.05,7.8e4)(21.1,3.0e4)(21.15,6.8e4)(21.2,5.0e4)(21.25,1.05e5)(21.3,7.5e4)(21.35,1.1e5)(21.4,5.5e4)(21.45,9.0e4)(21.5,6.5e4)(21.55,1.2e5)(21.6,4.8e4)(21.65,8.5e4)(21.7,7.0e4)(21.75,1.0e5)(21.8,6.0e4)(21.85,9.0e4)(21.9,5.5e4)(21.95,8.0e4)(22.0,7.5e4)(22.05,6.5e4)(22.1,8.5e4)(22.15,1.0e5)(22.2,1.25e5)(22.25,1.2e5)(22.3,1.3e5)(22.35,1.18e5)(22.4,1.25e5)(22.45,1.15e5)(22.5,1.22e5)(22.55,1.1e5)(22.6,1.15e5)(22.65,1.05e5)(22.7,1.0e5)(22.75,9.2e4)(22.8,8.8e4)(22.85,9.5e4)(22.9,8.5e4)(22.95,9.0e4)(23.0,8.2e4)(23.05,8.6e4)(23.1,8.0e4)(23.15,8.4e4)(23.2,7.8e4)(23.25,8.0e4)(23.3,7.5e4)(23.35,7.8e4)(23.4,7.4e4)(23.45,7.2e4)(23.5,7.5e4)(23.55,7.0e4)(23.6,7.3e4)(23.65,7.5e4)(23.7,7.8e4)(23.75,8.0e4)(23.8,8.5e4)(23.85,9.0e4)(23.9,1.05e5)(23.93,1.5e5)(23.95,1.2e5)(24.0,1.1e5)
};
\end{axis}
% ---------------- labels
\node[anchor=base east, inner sep=0pt] at (45bp,-65.7bp) {Bt,Bz};
\node[anchor=base, inner sep=0pt] at (25bp,-138bp) {T};
\node[anchor=base, inner sep=0pt] at (27bp,-159bp) {Phi};
\node[anchor=base, inner sep=0pt] at (25.5bp,-182bp) {A};
\node[anchor=base, inner sep=0pt] at (23bp,-253bp) {N};
\node[anchor=base, inner sep=0pt] at (22.7bp,-347bp) {V};
\node[anchor=base, inner sep=0pt] at (22.5bp,-441bp) {T};
\node[anchor=base, inner sep=0pt] at (346bp,-509bp) {UT};
% title pieces
\begin{scope}[every node/.style={anchor=base west, inner sep=0pt}]
\node at (218.3bp,-16bp) {2026};
\node at (250bp,-16bp) {/};
\node at (264.5bp,-16bp) {5};
\node at (276.5bp,-16bp) {/};
\node at (283bp,-16bp) {27};
\node at (306.7bp,-16bp) {01:00};
\node at (340bp,-16bp) {-{}-};
\node at (360bp,-16bp) {5};
\node at (368.5bp,-16bp) {/};
\node at (378bp,-16bp) {28};
\node at (405bp,-16bp) {01:00};
\node at (439.5bp,-16bp) {(};
\node at (446bp,-16bp) {ACE};
\node at (472.5bp,-16bp) {)};
\end{scope}
\end{tikzpicture}
\end{document}
